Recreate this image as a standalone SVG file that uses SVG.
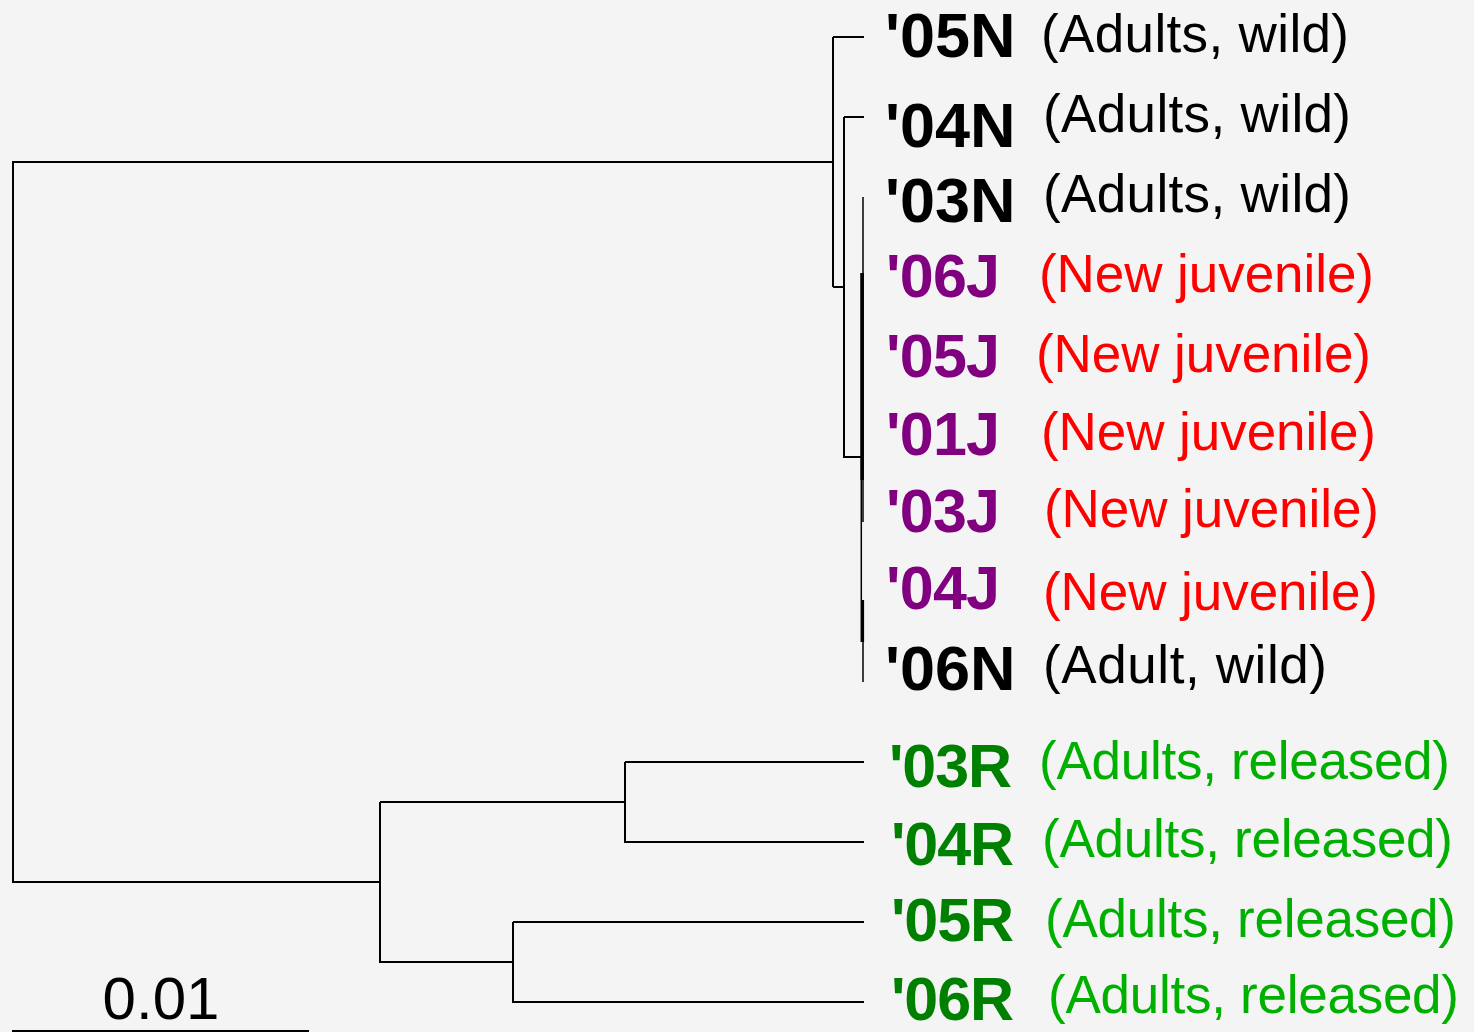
<svg xmlns="http://www.w3.org/2000/svg" width="1474" height="1032" viewBox="0 0 1474 1032">
<style>
.b{font-family:"Liberation Sans",Arial,sans-serif;font-weight:bold;font-size:61px}
.bn{font-size:63px}
.d{font-family:"Liberation Sans",Arial,sans-serif;font-size:53px}
.k{fill:#000}
.p{fill:#800080}
.r{fill:#ff0000}
.g{fill:#008000}
.lg{fill:#00b000}
.t{stroke:#000;stroke-width:2;fill:none;stroke-linecap:butt}
</style>
<rect width="1474" height="1032" fill="#f4f4f4"/>
<g id="connectors" class="t">
<path d="M13,162 H833 M13,161 V883 M13,882 H380"/>
<path d="M833,37 V287 M833,37 H864 M833,287 H845"/>
<path d="M844,117 V458 M844,117 H864 M844,457 H861"/>
<path d="M863,197 V522" stroke-width="1.5"/>
<path d="M861.3,273 V642" stroke-width="1.5"/>
<path d="M862.2,273 V480" stroke-width="3.5"/>
<path d="M862.6,600 V642" stroke-width="3"/>
<path d="M863,642 V682" stroke-width="1.5"/>
<path d="M380,802 V963 M380,802 H625 M380,962 H513"/>
<path d="M625,762 V843 M625,762 H864 M625,842 H864"/>
<path d="M513,922 V1003 M513,922 H864 M513,1002 H864"/>
</g>
<g id="n05N"><text x="885" y="57" class="b bn k">'05N</text><text x="1041" y="52" class="d k" textLength="308">(Adults, wild)</text></g>
<g id="n04N"><text x="885" y="147" class="b bn k">'04N</text><text x="1043" y="132" class="d k" textLength="308">(Adults, wild)</text></g>
<g id="n03N"><text x="885" y="222" class="b bn k">'03N</text><text x="1043" y="212" class="d k" textLength="308">(Adults, wild)</text></g>
<g id="n06J"><text x="886" y="297" class="b p" textLength="114">'06J</text><text x="1039" y="292" class="d r" textLength="335">(New juvenile)</text></g>
<g id="n05J"><text x="886" y="377" class="b p" textLength="114">'05J</text><text x="1036" y="372" class="d r" textLength="335">(New juvenile)</text></g>
<g id="n01J"><text x="886" y="455" class="b p" textLength="114">'01J</text><text x="1041" y="450" class="d r" textLength="335">(New juvenile)</text></g>
<g id="n03J"><text x="886" y="532" class="b p" textLength="114">'03J</text><text x="1044" y="527" class="d r" textLength="335">(New juvenile)</text></g>
<g id="n04J"><text x="886" y="609" class="b p" textLength="114">'04J</text><text x="1043" y="610" class="d r" textLength="335">(New juvenile)</text></g>
<g id="n06N"><text x="885" y="690" class="b bn k">'06N</text><text x="1043" y="683" class="d k" textLength="284">(Adult, wild)</text></g>
<g id="n03R"><text x="889" y="787" class="b g" textLength="123">'03R</text><text x="1039" y="779" class="d lg" textLength="411">(Adults, released)</text></g>
<g id="n04R"><text x="891" y="865" class="b g" textLength="123">'04R</text><text x="1042" y="857" class="d lg" textLength="411">(Adults, released)</text></g>
<g id="n05R"><text x="891" y="941" class="b g" textLength="123">'05R</text><text x="1045" y="937" class="d lg" textLength="411">(Adults, released)</text></g>
<g id="n06R"><text x="891" y="1020" class="b g" textLength="123">'06R</text><text x="1048" y="1013" class="d lg" textLength="411">(Adults, released)</text></g>
<g id="scale">
<path d="M12,1031 H309" class="t"/>
<text x="161" y="1019" text-anchor="middle" style="font-family:'Liberation Sans',Arial,sans-serif;font-size:60px" class="k">0.01</text>
</g>
</svg>
